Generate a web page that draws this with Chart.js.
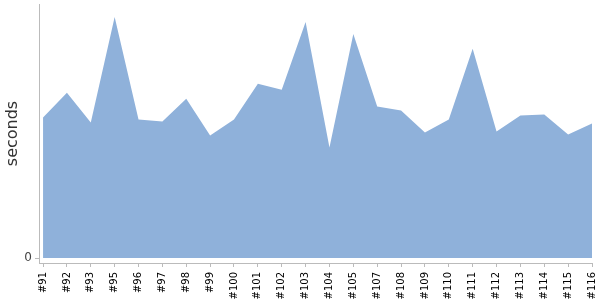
<!DOCTYPE html>
<html>
<head>
<meta charset="utf-8">
<script src="https://cdn.jsdelivr.net/npm/chart.js@4"></script>
<style>
    html, body { margin: 0; padding: 0; background: #fff; }
    #wrap { width: 600px; height: 300px; }
</style>
</head>
<body>
<div id="wrap"><canvas id="grafico"></canvas></div>
<script>
const builds = ['#91', '#92', '#93', '#95', '#96', '#97', '#98', '#99', '#100', '#101', '#102', '#103',
    '#104', '#105', '#107', '#108', '#109', '#110', '#111', '#112', '#113', '#114', '#115', '#116'];
const seconds = [141, 166, 136, 242, 139, 137, 160, 123, 139, 175, 169, 237,
    111, 225, 152, 148, 126, 139, 210, 127, 143, 144, 124, 135];
const yTicks = [0];

const ctx = document.getElementById('grafico');

new Chart(ctx, {
    type: 'line',
    data: {
        datasets: [{
            data: seconds.map((s, i) => ({ x: i, y: s })),
            fill: 'origin',
            backgroundColor: '#8fb1da',
            borderWidth: 0,
            borderColor: '#8fb1da',
            pointRadius: 0,
            tension: 0
        }]
    },
    options: {
        responsive: true,
        maintainAspectRatio: false,
        animation: false,
        layout: { padding: { left: 0, right: 8, top: 4, bottom: 0 } },
        plugins: {
            legend: { display: false },
            tooltip: { enabled: false }
        },
        scales: {
            y: {
                min: -5,
                max: 255,
                afterBuildTicks: axis => {
                    axis.ticks = yTicks.map(v => ({ value: v }));
                },
                afterFit: axis => {
                    axis.width = 39;
                    axis.paddingTop = 0;
                    axis.paddingBottom = 0;
                },
                grid: { drawOnChartArea: false, tickLength: 4, color: '#bbb' },
                border: { color: '#bbb' },
                ticks: {
                    color: '#444',
                    font: { family: 'DejaVu Sans', size: 12 },
                    padding: 3
                },
                title: {
                    display: true,
                    text: 'seconds',
                    color: '#333',
                    font: { family: 'DejaVu Sans', size: 16 },
                    padding: { top: 3, bottom: 4 }
                }
            },
            x: {
                type: 'linear',
                min: -0.17,
                max: builds.length - 1,
                afterBuildTicks: axis => {
                    axis.ticks = builds.map((b, i) => ({ value: i }));
                },
                afterFit: axis => {
                    axis.height = 37;
                    axis.paddingLeft = 0;
                    axis.paddingRight = 0;
                },
                grid: { drawOnChartArea: false, tickLength: 4, color: '#bbb' },
                border: { color: '#bbb' },
                ticks: {
                    autoSkip: false,
                    minRotation: 90,
                    maxRotation: 90,
                    color: '#000',
                    font: { family: 'DejaVu Sans', size: 10 },
                    padding: 5,
                    callback: v => builds[v]
                }
            }
        }
    }
});
</script>
</body>
</html>
